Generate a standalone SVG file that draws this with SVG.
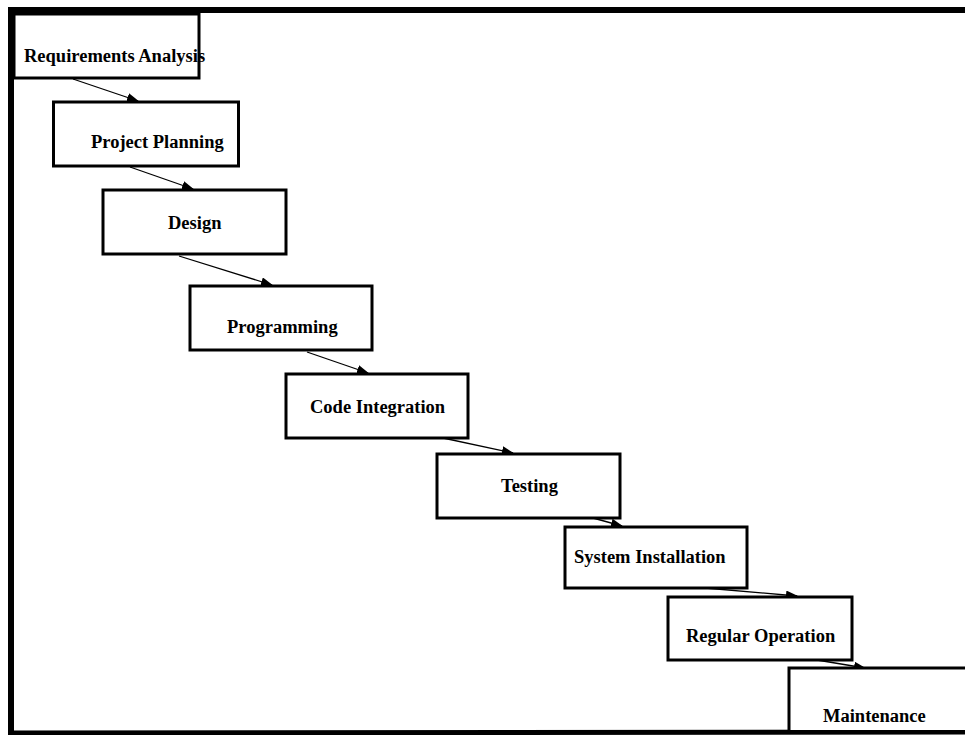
<svg xmlns="http://www.w3.org/2000/svg" width="965" height="735" viewBox="0 0 965 735">
  <style>
    .bg { fill: #ffffff; stroke: none; }
    .edge { fill: none; stroke: #000000; stroke-width: 3; }
    .label { font-family: "Liberation Serif", "Times New Roman", serif; font-weight: bold; font-size: 18.5px; fill: #000000; }
    .link { stroke: #000000; stroke-width: 1.3; fill: none; marker-end: url(#head); }
    .frame { stroke: #000000; fill: none; }
  </style>
  <defs>
    <marker id="head" markerUnits="userSpaceOnUse" markerWidth="12" markerHeight="9" refX="11" refY="4.5" orient="auto">
      <path d="M0,0 L12,4.5 L0,9 Z" fill="#000000"/>
    </marker>
  </defs>

  <rect width="965" height="735" fill="#ffffff"/>

  <!-- outer frame: heavy top, left and bottom rules -->
  <g id="frame">
    <line class="frame" x1="8" y1="10" x2="965" y2="10" stroke-width="6"/>
    <line class="frame" x1="11" y1="7" x2="11" y2="735" stroke-width="6"/>
    <line class="frame" x1="8" y1="733" x2="965" y2="732" stroke-width="5"/>
  </g>

  <!-- connectors between consecutive phases -->
  <g id="connectors">
    <line class="link" x1="73" y1="79" x2="138" y2="101"/>
    <line class="link" x1="130" y1="167" x2="193" y2="189"/>
    <line class="link" x1="179" y1="256" x2="272" y2="285"/>
    <line class="link" x1="307" y1="352" x2="368" y2="373"/>
    <line class="link" x1="443" y1="438" x2="513" y2="453"/>
    <line class="link" x1="593" y1="518" x2="622" y2="526"/>
    <line class="link" x1="705" y1="588" x2="797" y2="596"/>
    <line class="link" x1="817" y1="660" x2="865" y2="668"/>
  </g>

  <g id="requirements-analysis">
    <rect class="bg" x="14" y="14" width="185" height="64"/>
    <text class="label" x="24" y="62">Requirements Analysis</text>
    <rect class="edge" x="14" y="14" width="185" height="64"/>
  </g>

  <g id="project-planning">
    <rect class="bg" x="53.5" y="102" width="185" height="64"/>
    <text class="label" x="91" y="148">Project Planning</text>
    <rect class="edge" x="53.5" y="102" width="185" height="64"/>
  </g>

  <g id="design">
    <rect class="bg" x="103" y="190" width="183" height="64"/>
    <text class="label" x="168" y="229">Design</text>
    <rect class="edge" x="103" y="190" width="183" height="64"/>
  </g>

  <g id="programming">
    <rect class="bg" x="190" y="286" width="182" height="64"/>
    <text class="label" x="227" y="333">Programming</text>
    <rect class="edge" x="190" y="286" width="182" height="64"/>
  </g>

  <g id="code-integration">
    <rect class="bg" x="286" y="374" width="182" height="64"/>
    <text class="label" x="310" y="413">Code Integration</text>
    <rect class="edge" x="286" y="374" width="182" height="64"/>
  </g>

  <g id="testing">
    <rect class="bg" x="437" y="454" width="183" height="64"/>
    <text class="label" x="501" y="492">Testing</text>
    <rect class="edge" x="437" y="454" width="183" height="64"/>
  </g>

  <g id="system-installation">
    <rect class="bg" x="565" y="527" width="182" height="61"/>
    <text class="label" x="574" y="563">System Installation</text>
    <rect class="edge" x="565" y="527" width="182" height="61"/>
  </g>

  <g id="regular-operation">
    <rect class="bg" x="668" y="597" width="184" height="63"/>
    <text class="label" x="686" y="642">Regular Operation</text>
    <rect class="edge" x="668" y="597" width="184" height="63"/>
  </g>

  <g id="maintenance">
    <rect class="bg" x="789" y="668" width="200" height="62"/>
    <text class="label" x="823" y="722">Maintenance</text>
    <path class="edge" d="M789,730 L789,668 L970,668"/>
  </g>
</svg>
